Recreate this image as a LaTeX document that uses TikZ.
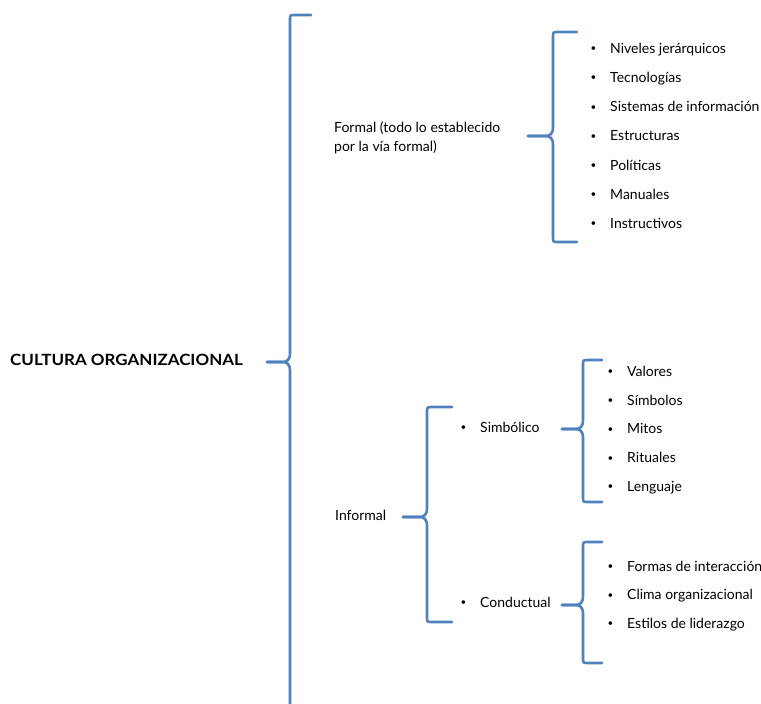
\documentclass[tikz,border=0pt]{standalone}
\usepackage{fontspec}
\setmainfont{Lato}
\definecolor{bracecol}{HTML}{4F81BD}
\tikzset{
  brace/.style={draw=bracecol, line width=2.6pt, line join=round, line cap=round},
  label/.style={anchor=west, inner sep=0pt, font=\fontsize{14}{16}\selectfont,
    text height=10pt, text depth=3.5pt},
  title/.style={anchor=west, inner sep=0pt, font=\fontsize{15.5}{17}\selectfont\bfseries,
    text height=11pt, text depth=3.5pt},
}
% bullet followed by its text
\newcommand\bul[1]{\makebox[20pt][l]{\hspace{0.5pt}\raisebox{1.6pt}{\scalebox{0.7}{\textbullet}}}#1}
% curly bracket: x of spine, top y, middle y, bottom y, end x of arms, x of tip
\newcommand\orgbrace[6]{%
  \draw[brace] (#5,#2) -- ({#1+5},#2) .. controls (#1,#2) .. (#1,{#2+5})
    -- (#1,{#3-9}) .. controls (#1,{#3-2}) and ({#1-3},#3) .. ({#1-8},#3) -- (#6,#3);
  \draw[brace] (#6,#3) -- ({#1-8},#3) .. controls ({#1-3},#3) and (#1,{#3+2}) .. (#1,{#3+9})
    -- (#1,{#4-5}) .. controls (#1,#4) .. ({#1+5},#4) -- (#5,#4);
}
\begin{document}
\begin{tikzpicture}[x=1pt,y=-1pt]
\useasboundingbox (0,0) rectangle (761,704);
\fill[white] (0,0) rectangle (761,704);
\clip (0,0) rectangle (761,704);

% root
\node[title] (root) at (10,362) {\scalebox{1.095}[1]{CULTURA ORGANIZACIONAL}};
\orgbrace{290}{15}{362}{730}{311}{267}

% formal branch
\node[label, align=left, text height=, text depth=, font=\fontsize{14}{19.5}\selectfont]
  (formal) at (334,138) {Formal (todo lo establecido\\por la vía formal)};
\orgbrace{553}{32}{136}{242}{577}{528}
\foreach \t [count=\i] in {Niveles jerárquicos, Tecnologías, Sistemas de información,
    Estructuras, Políticas, Manuales, Instructivos}
  \node[label] (f\i) at (590,{50+29.2*(\i-1)}) {\bul{\t}};

% informal branch
\node[label] (informal) at (335,517) {Informal};
\orgbrace{427}{407}{517}{622}{452}{403}
\node[label] (simb) at (460,429) {\bul{Simbólico}};
\node[label] (cond) at (460,604) {\bul{Conductual}};

% symbolic items
\orgbrace{583}{360}{429}{502}{602}{562}
\foreach \t [count=\i] in {Valores, Símbolos, Mitos, Rituales, Lenguaje}
  \node[label] (s\i) at (607,{373+28.8*(\i-1)}) {\bul{\t}};

% behavioural items
\orgbrace{583}{542}{605}{663}{602}{562}
\foreach \t [count=\i] in {Formas de interacción, Clima organizacional, Estilos de liderazgo}
  \node[label] (c\i) at (607,{568+28.5*(\i-1)}) {\bul{\t}};
\end{tikzpicture}
\end{document}
